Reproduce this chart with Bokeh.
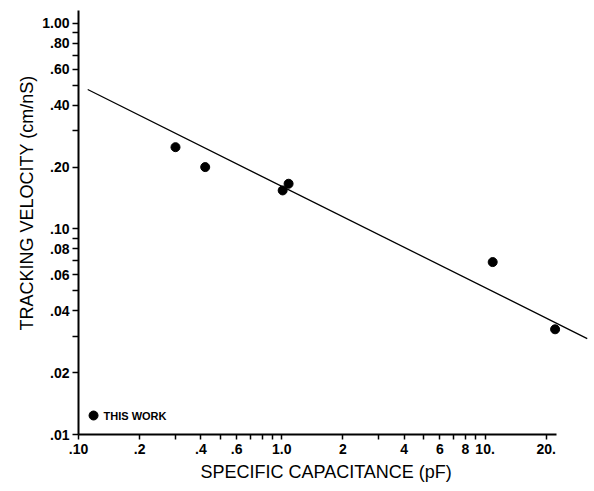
from bokeh.plotting import figure
from bokeh.models import FixedTicker, Title, Range1d
from bokeh.embed import file_html
from bokeh.resources import INLINE
from bokeh.core.properties import value

# ---- data ----
capacitance = [0.30, 0.42, 1.01, 1.08, 10.9, 22.1]          # pF
velocity = [0.25, 0.20, 0.154, 0.166, 0.069, 0.0325]        # cm/nS
fit_capacitance = [0.111, 31.8]
fit_velocity = [0.477, 0.0293]

x_major = [0.1, 0.2, 0.4, 0.6, 1.0, 2, 4, 6, 8, 10, 20]
x_major_labels = [".10", ".2", ".4", ".6", "1.0", "2", "4", "6", "8", "10.", "20."]
x_minor = [0.3, 0.5, 0.7, 0.8, 0.9, 3, 5, 7, 9]
y_major = [1.0, 0.8, 0.6, 0.4, 0.2, 0.1, 0.08, 0.06, 0.04, 0.02, 0.01]
y_major_labels = ["1.00", ".80", ".60", ".40", ".20", ".10", ".08", ".06", ".04", ".02", ".01"]
y_minor = [0.9, 0.7, 0.5, 0.3, 0.09, 0.07, 0.05, 0.03]

legend_text = "THIS WORK"
x_title = "SPECIFIC CAPACITANCE (pF)"
y_title = "TRACKING VELOCITY (cm/nS)"

# ---- layout / style ----
FONT = "Liberation Sans"
X_AXIS_END = 22.5
LEGEND_X, LEGEND_Y = 0.1186, 0.01237

p = figure(width=594, height=491, x_axis_type="log", y_axis_type="log",
           x_range=Range1d(0.1, 33), y_range=Range1d(0.01, 1.156),
           output_backend="svg", toolbar_location=None,
           min_border_left=78, min_border_right=4,
           min_border_top=10, min_border_bottom=57)
p.outline_line_color = None
p.grid.visible = False

for ax, major, labels, minor, tick, standoff in (
        (p.xaxis[0], x_major, x_major_labels, x_minor, 5, 4),
        (p.yaxis[0], y_major, y_major_labels, y_minor, 6, 3)):
    ax.ticker = FixedTicker(ticks=major, minor_ticks=minor)
    ax.major_label_overrides = dict(zip(major, labels))
    ax.axis_line_width = 2
    ax.axis_line_color = "black"
    ax.major_tick_out = tick
    ax.major_tick_in = 0
    ax.minor_tick_out = tick
    ax.minor_tick_in = 0
    ax.major_tick_line_width = 1.5
    ax.minor_tick_line_width = 1.5
    ax.major_tick_line_color = "black"
    ax.minor_tick_line_color = "black"
    ax.major_label_text_font = FONT
    ax.major_label_text_font_style = "bold"
    ax.major_label_text_font_size = "14px"
    ax.major_label_text_color = "black"
    ax.major_label_standoff = standoff

p.xaxis[0].bounds = (0.1, X_AXIS_END)

p.add_layout(Title(text=x_title, align="left", offset=122, text_font=FONT,
                   text_font_size="18px", text_font_style="normal",
                   text_color="black", standoff=6), "below")
p.add_layout(Title(text=y_title, align="left", offset=104, text_font=FONT,
                   text_font_size="18px", text_font_style="normal",
                   text_color="black", standoff=6), "left")

p.line(fit_capacitance, fit_velocity, line_width=1.3, line_color="black")
p.scatter(capacitance, velocity, size=9, color="black")

# legend
p.scatter([LEGEND_X], [LEGEND_Y], size=9, color="black")
p.text([LEGEND_X], [LEGEND_Y], text=[legend_text], x_offset=10,
       text_font=value(FONT), text_font_style="bold", text_font_size="11px",
       text_baseline="middle", text_color="black")

open("out.html", "w").write(file_html(p, INLINE))
